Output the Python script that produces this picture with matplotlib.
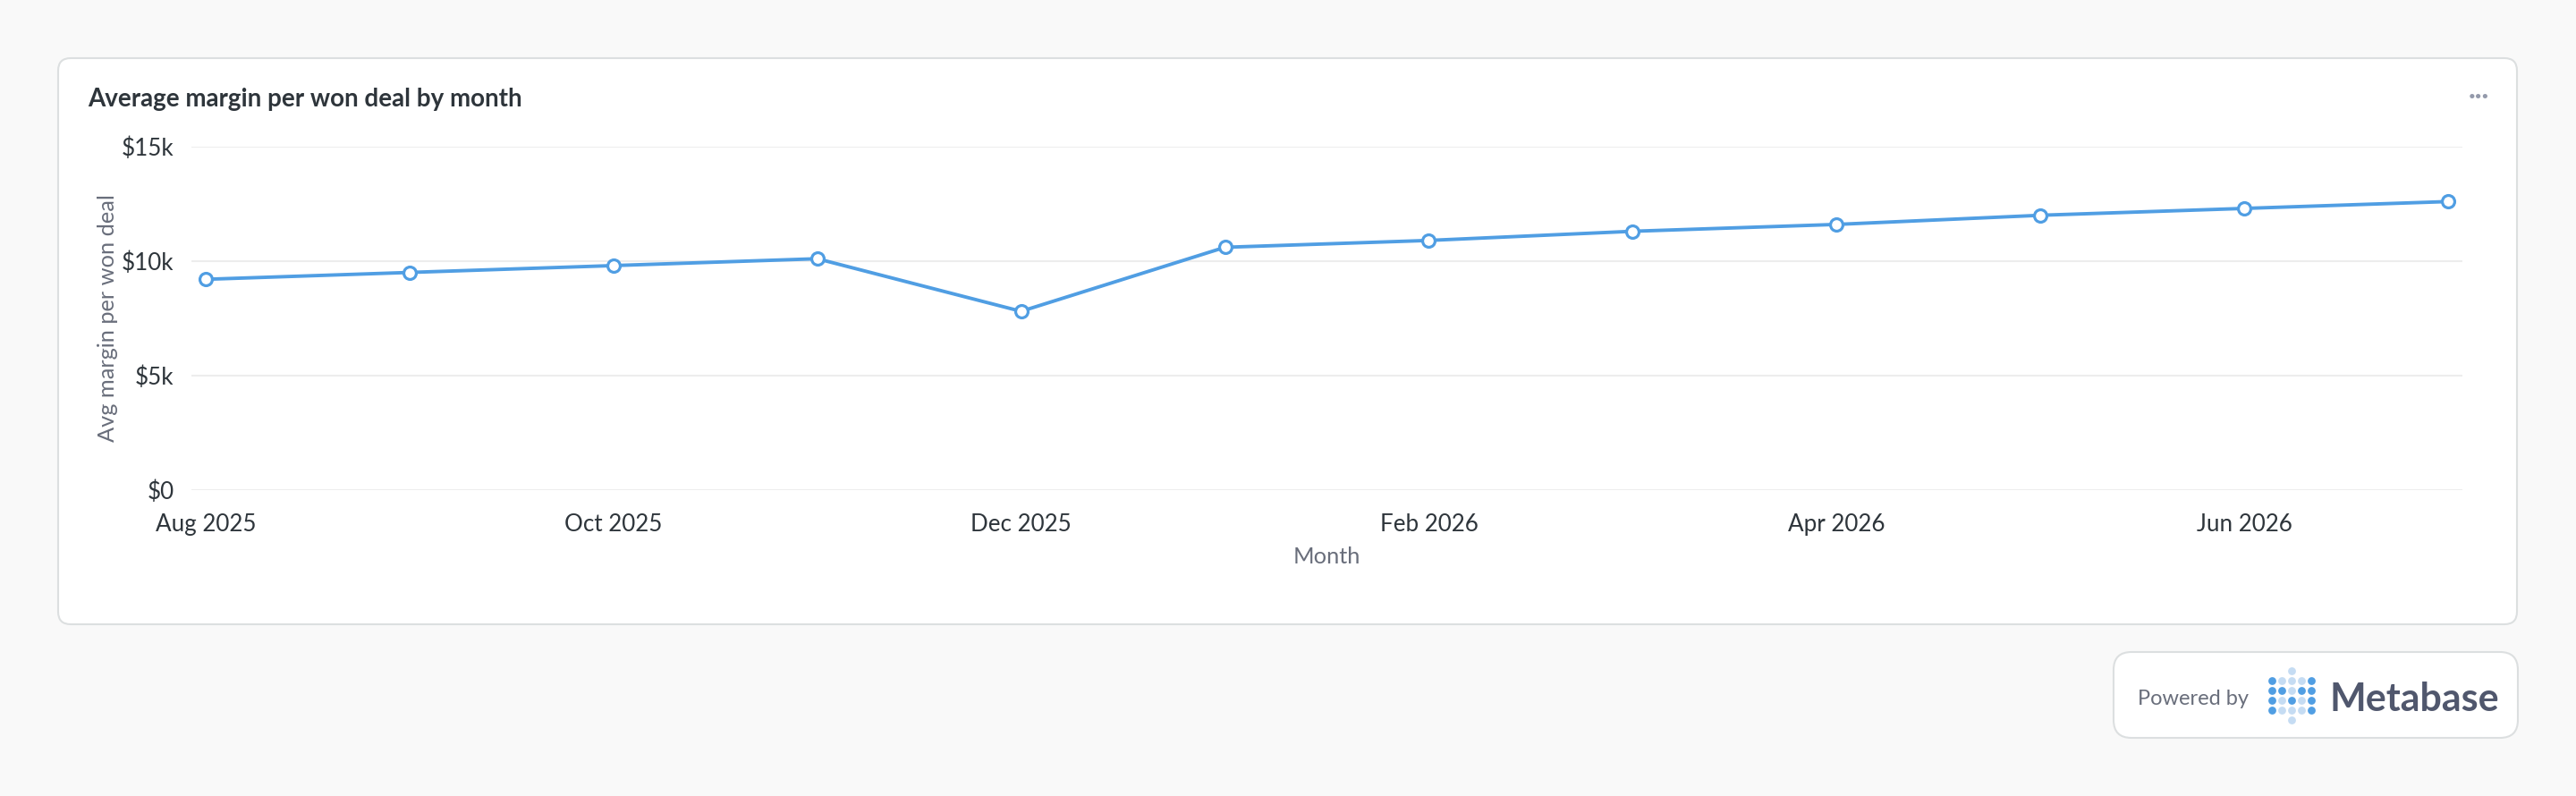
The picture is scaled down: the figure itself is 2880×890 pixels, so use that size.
import matplotlib
matplotlib.use("Agg")
import matplotlib.pyplot as plt
from matplotlib.patches import FancyBboxPatch
from matplotlib.ticker import FuncFormatter, FixedLocator

plt.rcParams['font.family'] = ['Lato', 'DejaVu Sans']

# data
months = ['Aug 2025', 'Sep 2025', 'Oct 2025', 'Nov 2025', 'Dec 2025', 'Jan 2026',
          'Feb 2026', 'Mar 2026', 'Apr 2026', 'May 2026', 'Jun 2026', 'Jul 2026']
avg_margin = [9200, 9500, 9800, 10100, 7800, 10600,
              10900, 11300, 11600, 12000, 12300, 12600]
y_ticks = [0, 5000, 10000, 15000]

W, H = 2880, 890
BLUE = '#509ee3'
DARK = '#2e353b'
GREY = '#696e7b'
BORDER = '#dcdfe0'

fig = plt.figure(figsize=(W / 100, H / 100), dpi=100, facecolor='#f9f9f9')

# overlay in pixel coords for the card, badge and header bits
bg = fig.add_axes([0, 0, 1, 1], zorder=0)
bg.set_xlim(0, W)
bg.set_ylim(H, 0)
bg.axis('off')

card = FancyBboxPatch((65, 65), 2749, 633, boxstyle='round,pad=0,rounding_size=14',
                      facecolor='white', edgecolor=BORDER, linewidth=1.5)
bg.add_patch(card)
bg.text(98, 111, 'Average margin per won deal by month', fontsize=20,
        fontweight='bold', color=DARK, ha='left', va='center')
bg.text(2771, 108, '···', fontsize=20, fontweight='bold', color='#949aab',
        ha='center', va='center')

# powered by badge
badge = FancyBboxPatch((2363, 729), 452, 96, boxstyle='round,pad=0,rounding_size=20',
                       facecolor='white', edgecolor=BORDER, linewidth=1.5)
bg.add_patch(badge)
bg.text(2390, 781, 'Powered by', fontsize=17, color=GREY, ha='left', va='center')
bg.text(2604, 782, 'Metabase', fontsize=31, fontweight='bold', color='#50576d',
        ha='left', va='center')
pattern = ['DLLLD', 'DDLDD', 'DLDLD', 'DLLLD']
for r, row in enumerate(pattern):
    for c, ch in enumerate(row):
        bg.scatter(2540 + 11 * c, 761 + 11 * r, s=40, linewidths=0,
                   color=BLUE if ch == 'D' else '#c5dcf3', zorder=3)
for yy in (750, 805):
    bg.scatter(2562, yy, s=40, linewidths=0, color='#c5dcf3', zorder=3)

# main chart
ax = fig.add_axes([214 / W, 1 - 547.5 / H, (2753 - 214) / W, (547.5 - 164) / H], zorder=1)
ax.patch.set_alpha(0)
x = list(range(len(months)))
ax.plot(x, avg_margin, color=BLUE, linewidth=2.8, marker='o', markersize=10,
        markerfacecolor='white', markeredgecolor=BLUE, markeredgewidth=2.3,
        zorder=3, clip_on=False)

ax.set_xlim(-0.07, len(months) - 1 + 0.07)
ax.set_ylim(0, 15000)
ax.yaxis.set_major_locator(FixedLocator(y_ticks))
ax.yaxis.set_major_formatter(FuncFormatter(lambda v, p: '$0' if v == 0 else f'${int(v / 1000)}k'))
ax.set_xticks(x[::2])
ax.set_xticklabels(months[::2])
ax.grid(axis='y', color='#ededed', linewidth=1.5)
ax.set_axisbelow(True)
for s in ax.spines.values():
    s.set_visible(False)
ax.tick_params(axis='both', length=0, labelsize=18.7, colors=DARK)
ax.tick_params(axis='y', pad=14)
ax.tick_params(axis='x', pad=19)

ax.set_ylabel('Avg margin per won deal', fontsize=18.3, color=GREY)
ax.yaxis.set_label_coords((121 - 214) / (2753 - 214), 0.5)
ax.yaxis.label.set_va('center')
ax.set_xlabel('Month', fontsize=18.3, color=GREY)
ax.xaxis.set_label_coords(0.5, -(622 - 547.5) / (547.5 - 164))
ax.xaxis.label.set_va('center')

fig.savefig('out.png', dpi=100, facecolor=fig.get_facecolor())
